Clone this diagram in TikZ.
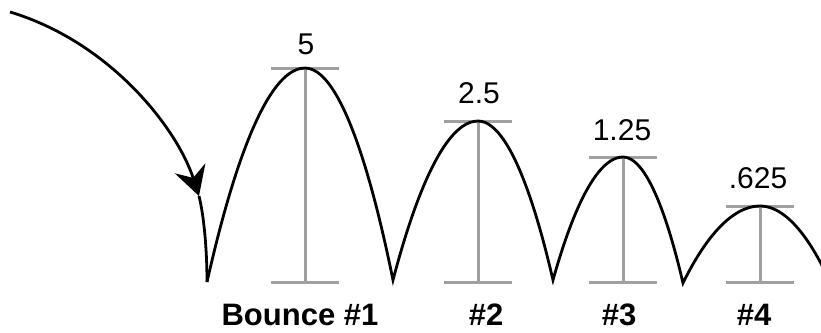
\documentclass[tikz,border=0pt]{standalone}
\usepackage{fontspec}
\setmainfont{Liberation Sans}
\usetikzlibrary{arrows.meta}
\definecolor{barGray}{HTML}{A0A0A0}
\begin{document}
\begin{tikzpicture}[x=1pt,y=-1pt,
  curve/.style={line width=2.8pt, black},
  bar/.style={line width=3pt, barGray},
  val/.style={font=\fontsize{30}{36}\selectfont, anchor=base, inner sep=0pt},
  lab/.style={font=\fontsize{31}{37}\selectfont\bfseries, anchor=base, inner sep=0pt}]
\useasboundingbox (0,0) rectangle (821,332);
\clip (0,0) rectangle (821,332);
% key points
\coordinate (start) at (10,12);
\coordinate (tip) at (199,196);
\coordinate (v0) at (207,282);
\coordinate (p1) at (305,68);
\coordinate (v1) at (393,280);
\coordinate (p2) at (478,121);
\coordinate (v2) at (553,280);
\coordinate (p3) at (623,157);
\coordinate (v3) at (683,283);
\coordinate (p4) at (760,206);
\coordinate (v4) at (830,282);
\coordinate (base) at (0,282);
% height bars
\foreach \p in {p1,p2,p3,p4}{
  \draw[bar] (\p) -- (\p |- base);
  \draw[bar] ([xshift=-34pt]\p) -- ([xshift=34pt]\p);
  \draw[bar] ([xshift=-34pt]\p |- base) -- ([xshift=34pt]\p |- base);
}
% incoming path with arrow
\draw[curve, -{Stealth[length=29pt, width=32pt, inset=10pt]}] (start) .. controls (110,42) and (177,128) .. (tip);
\draw[curve] (tip) .. controls (204,216) and (207,250) .. (v0);
% bounces
\draw[curve, line join=miter] (v0) parabola bend (p1) (v1)
  parabola bend (p2) (v2)
  parabola bend (p3) (v3)
  parabola bend (p4) (v4);
% values
\node[val] (h1) at (306,54) {5};
\node[val] (h2) at (479,103) {2.5};
\node[val] (h3) at (622,140) {1.25};
\node[val] (h4) at (758,188) {.625};
% bounce labels
\node[lab] (b1) at (300,325) {Bounce \#1};
\node[lab] (b2) at (486,325) {\#2};
\node[lab] (b3) at (619,325) {\#3};
\node[lab] (b4) at (754,325) {\#4};
\end{tikzpicture}
\end{document}
